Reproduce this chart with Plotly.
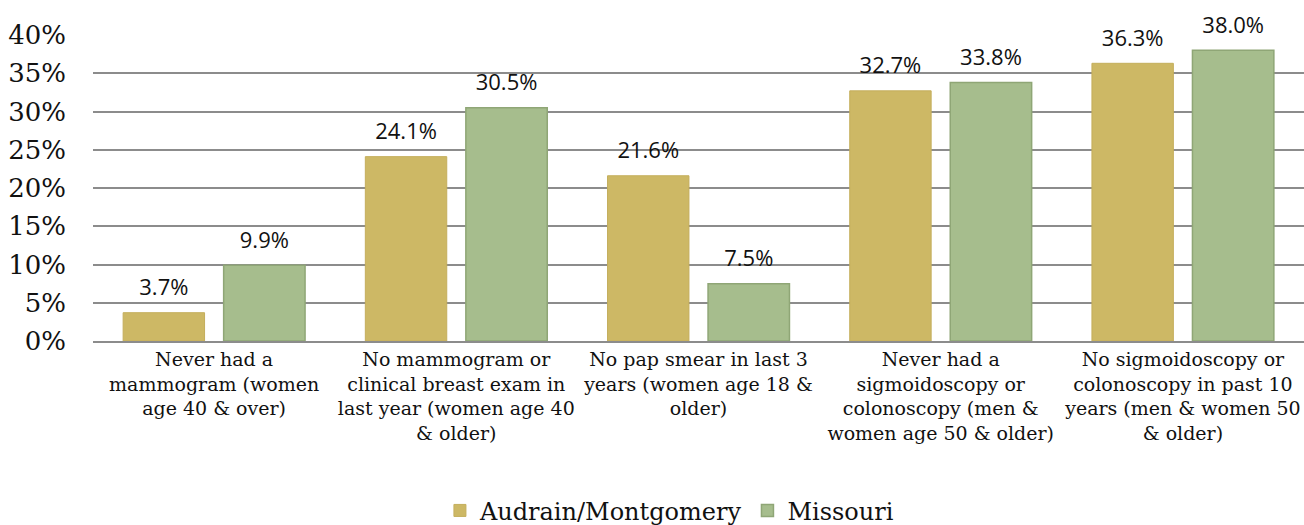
import plotly.graph_objects as go

categories = [
    "Never had a<br>mammogram (women<br>age 40 & over)",
    "No mammogram or<br>clinical breast exam in<br>last year (women age 40<br>& older)",
    "No pap smear in last 3<br>years (women age 18 &<br>older)",
    "Never had a<br>sigmoidoscopy or<br>colonoscopy (men &<br>women age 50 & older)",
    "No sigmoidoscopy or<br>colonoscopy in past 10<br>years (men & women 50<br>& older)",
]
audrain = [3.7, 24.1, 21.6, 32.7, 36.3]
missouri = [9.9, 30.5, 7.5, 33.8, 38.0]
series_names = ["Audrain/Montgomery", "Missouri"]
tick_vals = [0, 5, 10, 15, 20, 25, 30, 35, 40]
tick_text = ["0%", "5%", "10%", "15%", "20%", "25%", "30%", "35%", "40%"]

label_font = dict(family="Open Sans, Noto Sans, sans-serif", size=9, color="#111111")

def labels(vals):
    return [f"<span style='font-size:22px'>{v:.1f}%</span><br> " for v in vals]

fig = go.Figure()
fig.add_trace(go.Bar(
    name=series_names[0], x=categories, y=audrain,
    marker=dict(color="#CDB865", line=dict(color="#C4AE5C", width=1)),
    text=labels(audrain), textposition="outside", textfont=label_font,
    cliponaxis=False, constraintext="none",
))
fig.add_trace(go.Bar(
    name=series_names[1], x=categories, y=missouri,
    marker=dict(color="#A6BD8D", line=dict(color="#8FA676", width=1.5)),
    text=labels(missouri), textposition="outside", textfont=label_font,
    cliponaxis=False, constraintext="none",
))

fig.update_layout(
    width=1304, height=525,
    margin=dict(l=93, r=0, t=35, b=184, autoexpand=False),
    paper_bgcolor="white", plot_bgcolor="white",
    barmode="group", bargap=0.17, bargroupgap=0.19,
    showlegend=True,
    legend=dict(orientation="h", x=0.476, xanchor="center", y=-0.555, yanchor="middle",
                font=dict(family="DejaVu Serif, serif", size=24, color="#111111"),
                itemwidth=30, traceorder="normal"),
)
fig.update_yaxes(
    range=[0, 40], tickvals=tick_vals, ticktext=tick_text, automargin=False,
    showgrid=True, gridcolor="#8C8C8C", gridwidth=1.5,
    zeroline=False, showline=False, ticks="",
    tickfont=dict(family="DejaVu Serif, serif", size=26, color="#111111"),
    ticklabelstandoff=26,
)
fig.update_xaxes(
    showline=True, linecolor="#8C8C8C", linewidth=2, ticks="", automargin=False,
    tickfont=dict(family="DejaVu Serif, serif", size=19, color="#111111"),
    tickangle=0,
)
fig.write_html("out.html", config={"displayModeBar": False},
               post_script="document.body.style.margin='0';document.body.style.overflow='hidden';")
